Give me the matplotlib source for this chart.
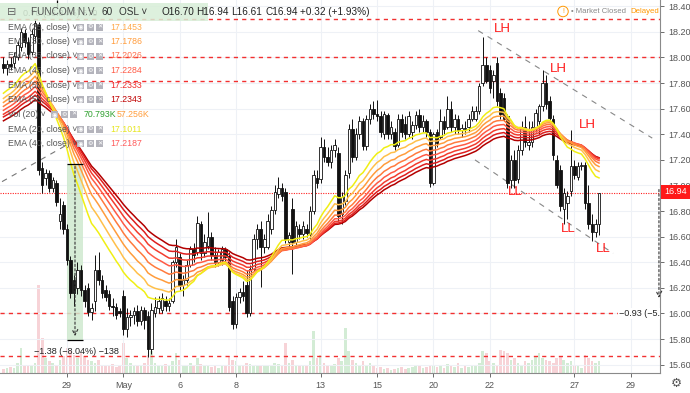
import numpy as np
import matplotlib
matplotlib.use('Agg')
import matplotlib.pyplot as plt
from matplotlib.patches import Rectangle

plt.rcParams['font.family'] = ['Liberation Sans', 'DejaVu Sans']

# hourly bars, 8 per trading day (OSL)
opens = [
    17.95, 17.92,
    17.95, 17.96, 18.00, 18.08, 18.19, 18.12, 18.04, 18.17,   # Apr 25
    18.25, 17.14, 17.06, 17.10, 16.98, 17.02, 16.72, 16.85,   # Apr 26
    16.66, 16.42, 16.26, 16.20, 16.34, 16.18, 16.20, 16.01,   # Apr 29
    16.10, 16.34, 16.26, 16.18, 16.15, 16.06, 16.05, 16.02,   # Apr 30
    16.14, 15.88, 15.97, 15.99, 16.02, 15.94, 16.03, 15.98,   # May 2
    15.72, 16.00, 16.04, 16.03, 16.10, 16.06, 16.10, 16.40,   # May 3
    16.44, 16.22, 16.26, 16.38, 16.50, 16.48, 16.70, 16.47,   # May 6
    16.53, 16.60, 16.46, 16.40, 16.42, 16.50, 16.45, 16.10,   # May 7
    15.92, 16.13, 16.17, 16.22, 16.00, 16.35, 16.58, 16.66,   # May 8
    16.52, 16.52, 16.66, 16.81, 16.93, 16.98, 16.95, 16.56,   # May 9
    16.82, 16.56, 16.66, 16.62, 16.66, 16.62, 16.80, 17.06,   # May 10
    17.05, 17.30, 17.22, 17.18, 17.28, 17.25, 16.78, 16.88,   # May 13
    17.10, 17.44, 17.22, 17.40, 17.50, 17.31, 17.52, 17.60,   # May 14
    17.56, 17.54, 17.40, 17.55, 17.40, 17.42, 17.32, 17.52,   # May 15
    17.48, 17.40, 17.42, 17.47, 17.55, 17.46, 17.50, 17.42,   # May 16
    17.02, 17.42, 17.38, 17.50, 17.46, 17.60, 17.46, 17.52,   # May 20
    17.43, 17.45, 17.46, 17.52, 17.52, 17.58, 17.80, 17.94,   # May 21
    17.90, 17.82, 17.96, 17.72, 17.68, 17.54, 17.04, 17.20,   # May 22
    17.05, 17.28, 17.46, 17.32, 17.34, 17.46, 17.50, 17.62,   # May 23
    17.80, 17.66, 17.52, 17.20, 17.12, 16.82, 16.86, 16.96,   # May 24
    17.15, 17.07, 17.15, 17.16, 16.86, 16.70, 16.64, 16.70,   # May 27
]
highs = [
    18.00, 17.98,
    18.00, 18.04, 18.13, 18.23, 18.22, 18.16, 18.22, 18.30,
    18.28, 17.18, 17.13, 17.12, 17.07, 17.04, 16.90, 16.88,
    16.70, 16.45, 16.30, 16.40, 16.38, 16.22, 16.24, 16.08,
    16.46, 16.48, 16.30, 16.22, 16.18, 16.12, 16.08, 16.04,
    16.18, 16.04, 16.03, 16.05, 16.07, 16.06, 16.05, 16.02,
    16.08, 16.13, 16.14, 16.16, 16.14, 16.12, 16.42, 16.58,
    16.47, 16.30, 16.42, 16.53, 16.55, 16.76, 16.72, 16.62,
    16.79, 16.64, 16.52, 16.50, 16.53, 16.52, 16.48, 16.14,
    16.16, 16.20, 16.25, 16.34, 16.38, 16.62, 16.70, 16.72,
    16.62, 16.78, 16.84, 17.00, 17.07, 17.02, 16.98, 16.64,
    16.90, 16.72, 16.70, 16.72, 16.70, 16.84, 17.12, 17.12,
    17.38, 17.36, 17.30, 17.32, 17.36, 17.30, 16.95, 17.12,
    17.48, 17.52, 17.45, 17.54, 17.53, 17.55, 17.64, 17.66,
    17.67, 17.58, 17.58, 17.57, 17.50, 17.45, 17.56, 17.56,
    17.54, 17.58, 17.50, 17.58, 17.60, 17.55, 17.52, 17.44,
    17.42, 17.44, 17.60, 17.54, 17.70, 17.66, 17.56, 17.55,
    17.48, 17.50, 17.56, 17.62, 17.62, 17.80, 18.16, 18.00,
    17.94, 17.90, 18.00, 17.76, 17.72, 17.56, 17.24, 17.28,
    17.32, 17.50, 17.54, 17.50, 17.50, 17.60, 17.64, 17.90,
    17.86, 17.70, 17.55, 17.24, 17.16, 16.98, 16.96, 17.43,
    17.20, 17.18, 17.18, 17.18, 17.00, 16.78, 16.74, 16.94,
]
lows = [
    17.88, 17.86,
    17.90, 17.92, 17.98, 18.05, 18.08, 17.99, 18.02, 18.12,
    17.08, 16.94, 17.00, 16.95, 16.95, 16.84, 16.66, 16.62,
    16.38, 16.12, 16.06, 16.15, 16.14, 16.05, 15.98, 15.95,
    16.02, 16.22, 16.12, 16.10, 16.03, 15.98, 15.96, 15.97,
    15.83, 15.82, 15.90, 15.92, 15.90, 15.91, 15.88, 15.66,
    15.68, 15.97, 16.00, 16.00, 16.02, 16.02, 16.08, 16.36,
    16.18, 16.14, 16.22, 16.36, 16.40, 16.46, 16.42, 16.44,
    16.50, 16.42, 16.36, 16.37, 16.38, 16.40, 16.02, 15.88,
    15.89, 16.08, 16.10, 15.97, 15.98, 16.33, 16.50, 16.21,
    16.47, 16.50, 16.62, 16.78, 16.90, 16.88, 16.55, 16.52,
    16.31, 16.52, 16.58, 16.58, 16.60, 16.58, 16.78, 16.98,
    17.02, 17.18, 17.15, 17.14, 17.22, 16.72, 16.70, 16.85,
    17.06, 17.18, 17.20, 17.36, 17.28, 17.28, 17.48, 17.52,
    17.50, 17.38, 17.36, 17.36, 17.36, 17.28, 17.30, 17.38,
    17.36, 17.38, 17.36, 17.44, 17.42, 17.42, 17.38, 16.99,
    17.00, 17.30, 17.36, 17.40, 17.44, 17.42, 17.40, 17.40,
    17.38, 17.40, 17.42, 17.50, 17.50, 17.56, 17.78, 17.80,
    17.72, 17.68, 17.62, 17.52, 17.50, 16.98, 16.98, 16.98,
    17.02, 17.24, 17.30, 17.28, 17.30, 17.42, 17.40, 17.58,
    17.60, 17.50, 17.20, 16.98, 16.80, 16.70, 16.74, 16.92,
    17.05, 17.04, 17.12, 16.82, 16.66, 16.57, 16.60, 16.61,
]
closes = [
    17.92, 17.95,
    17.93, 18.01, 18.10, 18.20, 18.12, 18.03, 18.18, 18.27,
    17.12, 17.00, 17.10, 16.98, 17.04, 16.87, 16.78, 16.66,
    16.42, 16.16, 16.16, 16.34, 16.18, 16.10, 16.01, 16.04,
    16.34, 16.26, 16.16, 16.13, 16.06, 16.05, 15.99, 16.00,
    15.88, 15.97, 15.99, 16.02, 15.94, 16.03, 15.95, 15.72,
    16.03, 16.05, 16.10, 16.12, 16.06, 16.08, 16.40, 16.52,
    16.22, 16.26, 16.38, 16.50, 16.46, 16.71, 16.47, 16.56,
    16.60, 16.46, 16.40, 16.48, 16.50, 16.44, 16.05, 15.92,
    16.13, 16.17, 16.14, 16.00, 16.35, 16.58, 16.66, 16.52,
    16.58, 16.72, 16.81, 16.95, 16.98, 16.92, 16.58, 16.61,
    16.56, 16.68, 16.62, 16.68, 16.63, 16.80, 17.08, 17.02,
    17.30, 17.22, 17.18, 17.28, 17.32, 16.76, 16.91, 17.08,
    17.44, 17.22, 17.40, 17.50, 17.31, 17.52, 17.60, 17.56,
    17.54, 17.42, 17.56, 17.40, 17.46, 17.31, 17.52, 17.42,
    17.40, 17.54, 17.47, 17.55, 17.46, 17.50, 17.42, 17.02,
    17.40, 17.33, 17.50, 17.44, 17.60, 17.46, 17.52, 17.43,
    17.45, 17.44, 17.52, 17.58, 17.58, 17.78, 17.94, 17.82,
    17.76, 17.86, 17.66, 17.56, 17.52, 17.02, 17.20, 17.04,
    17.28, 17.46, 17.34, 17.34, 17.46, 17.57, 17.62, 17.80,
    17.64, 17.53, 17.24, 17.00, 16.84, 16.94, 16.92, 17.15,
    17.08, 17.15, 17.16, 16.86, 16.70, 16.64, 16.70, 16.94,
]
volumes_k = [
    25, 30,
    35, 30, 60, 150, 50, 45, 40, 60,
    530, 210, 90, 70, 60, 50, 80, 100,
    150, 130, 110, 90, 120, 100, 80, 70,
    60, 80, 50, 40, 45, 55, 35, 40,
    180, 90, 60, 50, 45, 40, 60, 110,
    130, 60, 50, 40, 55, 45, 70, 120,
    80, 50, 45, 60, 40, 90, 55, 40,
    50, 35, 40, 30, 45, 50, 100, 80,
    70, 50, 40, 60, 55, 45, 40, 50,
    45, 40, 50, 60, 55, 40, 180, 60,
    80, 50, 45, 40, 50, 70, 250, 90,
    110, 60, 50, 40, 55, 90, 70, 270,
    130, 80, 60, 50, 70, 45, 60, 40,
    30, 35, 25, 30, 20, 25, 30, 35,
    25, 30, 35, 40, 45, 30, 35, 50,
    40, 35, 45, 30, 55, 40, 35, 60,
    30, 45, 35, 50, 40, 60, 130, 120,
    70, 60, 50, 140, 130, 120, 80, 90,
    60, 50, 70, 60, 80, 100, 120, 90,
    80, 70, 60, 90, 100, 80, 60, 70,
    50, 40, 30, 110, 90, 70, 60, 71,
]

ema_periods = [55, 50, 45, 40, 35, 30, 25, 20]
ema_seeds = [17.49, 17.52, 17.54, 17.57, 17.60, 17.63, 17.66, 17.70]
ema_colors = ['#b30000', '#de1f1f', '#f23c2e', '#ff5a45', '#ff7a3d',
              '#ff9c3c', '#ffc04a', '#f0ef14']

date_ticks = [18, 34, 50, 66, 90, 106, 122, 138, 162, 178]
date_labels = ['29', 'May', '6', '8', '13', '15', '20', '22', '27', '29']
price_ticks = [15.6, 15.8, 16.0, 16.2, 16.4, 16.6, 16.8, 17.0, 17.2, 17.4,
               17.6, 17.8, 18.0, 18.2, 18.4]
level_lines = [18.30, 18.00, 17.82, 16.00, 15.67]
last_price = 16.94

legend_names = ['EMA (25, close)', 'EMA (30, close)', 'EMA (35, close)',
                'EMA (45, close)', 'EMA (50, close)', 'EMA (55, close)',
                'Vol (20)', 'EMA (20, close)', 'EMA (40, close)']
legend_values = ['17.1453', '17.1786', '17.2026', '17.2284', '17.2333',
                 '17.2343', '70.793K', '17.1011', '17.2187']
legend_colors = ['#ffa94a', '#ff9c3c', '#ff6e4a', '#ff5a45', '#f02828',
                 '#c00000', '#2ea02e', '#e6e61e', '#ff5a5a']

labels_hl = ['LH', 'LH', 'LH', 'LL', 'LL', 'LL']
labels_x = [141.5, 157.6, 165.6, 145.3, 160.3, 170.2]
labels_p = [18.22, 17.91, 17.47, 16.95, 16.66, 16.50]


def ema(values, period, seed):
    a = 2.0 / (period + 1)
    out = []
    prev = seed
    for v in values:
        prev = a * v + (1 - a) * prev
        out.append(prev)
    return out


W, H = 690, 393
fig = plt.figure(figsize=(6.9, 3.93), dpi=100, facecolor='white')


def px(x, y):
    return x / W, 1 - y / H


ax = fig.add_axes([0, 20 / H, 660 / W, 373 / H])
ax2 = ax.twinx()
ax.set_zorder(2)
ax2.set_zorder(1)
ax.patch.set_visible(False)

n = len(closes)
xs = np.arange(n)
o = np.array(opens)
c = np.array(closes)
up = c >= o

# volume
vol_cols = np.where(up, '#d3ecd5', '#f7d3d7')
ax2.bar(xs, volumes_k, width=0.75, color=vol_cols, linewidth=0)
ax2.set_ylim(0, 373 * 6)
ax2.axis('off')

ax.set_xlim(-0.98, 186.3)
ax.set_ylim(15.535, 18.449)

for t in price_ticks:
    ax.axhline(t, color='#eef1f6', lw=0.8, zorder=0)
for t in date_ticks:
    ax.axvline(t, color='#eef1f6', lw=0.8, zorder=0)

for lv in level_lines:
    ax.axhline(lv, color='#f23030', lw=1.0, ls=(0, (3, 3)), zorder=1)
ax.axhline(last_price, color='#ff2020', lw=0.8, ls=(0, (1, 1.2)), zorder=1)

# trend lines
ax.plot([-0.4, 19.45], [17.03, 17.34], color='#777777', lw=0.8,
        ls=(0, (5, 5)), zorder=1)
ax.plot([134.7, 184.1], [18.21, 17.37], color='#888888', lw=0.8,
        ls=(0, (5, 5)), zorder=1)
ax.plot([133.8, 173.0], [17.20, 16.47], color='#888888', lw=0.8,
        ls=(0, (5, 5)), zorder=1)

# measure box
ax.add_patch(Rectangle((18.03, 15.79), 4.54, 1.38, facecolor='#cfe9cf',
                       edgecolor='none', alpha=0.85, zorder=1))
ax.hlines([17.17, 15.79], 18.03, 22.57, color='black', lw=0.9, zorder=4)
ax.annotate('', xy=(20.3, 15.80), xytext=(20.3, 17.17),
            arrowprops=dict(arrowstyle='->', ls=(0, (2, 2)), color='#333333',
                            lw=0.8), zorder=4)
ax.text(20.6, 15.70, '\u22121.38 (\u22128.04%) \u2212138', ha='center',
        va='center', fontsize=6.5, color='#222222', zorder=5)

ax.annotate('', xy=(186.0, 16.10), xytext=(186.0, 16.99),
            arrowprops=dict(arrowstyle='->', ls=(0, (2, 2)), color='#333333',
                            lw=0.8), zorder=4, annotation_clip=False)
ax.text(186.3, 16.0, '\u22120.93 (\u22125.', ha='right', va='center',
        fontsize=6.5, color='#222222', zorder=5, clip_on=True,
        bbox=dict(boxstyle='square,pad=0.1', fc='white', ec='none'))

ax.text(5.5, 18.34, '0.70 (36.84%) 670', ha='left', va='center',
        fontsize=6.5, color='#444444', zorder=5)
ax.vlines(15.2, 18.39, 18.45, color='black', lw=0.9, zorder=5)

# candles
ax.vlines(xs, lows, highs, color='#111111', lw=0.7, zorder=2)
bottoms = np.minimum(o, c)
heights = np.maximum(np.abs(c - o), 0.006)
ax.bar(xs, heights, bottom=bottoms, width=0.72,
       color=np.where(up, 'white', '#111111'), edgecolor='#111111',
       linewidth=0.6, zorder=2)

# EMA ribbon
for per, seed, col in zip(ema_periods, ema_seeds, ema_colors):
    ax.plot(xs, ema(closes, per, seed), color=col, lw=1.1, zorder=3)

for lab, lx, lp in zip(labels_hl, labels_x, labels_p):
    ax.text(lx, lp, lab, color='#ff1a1a', fontsize=9.5, ha='center',
            va='center', zorder=6)

# axes styling
ax.yaxis.tick_right()
ax.set_yticks(price_ticks)
ax.set_yticklabels(['%.2f' % t for t in price_ticks])
ax.set_xticks(date_ticks)
ax.set_xticklabels(date_labels)
ax.tick_params(axis='both', labelsize=6.5, colors='#555555', length=3,
               width=0.6)
ax.tick_params(axis='y', pad=3)
ax.tick_params(axis='x', pad=3)
ax.grid(False)
for s in ['left', 'top']:
    ax.spines[s].set_visible(False)
ax.spines['right'].set_color('#8a8a8a')
ax.spines['bottom'].set_color('#8a8a8a')

# price tag
fig.patches.append(Rectangle(px(661, 198.5), 29 / W, 14 / H,
                             facecolor='#ff1a1a', edgecolor='none',
                             transform=fig.transFigure, zorder=10))
fig.text(*px(664, 191.5), '16.94', color='white', fontsize=6.5, va='center',
         zorder=11)

# header
fig.patches.append(Rectangle(px(0, 21), 208 / W, 18 / H, facecolor='#d8eed8',
                             edgecolor='none', alpha=0.85,
                             transform=fig.transFigure, zorder=8))
fig.text(*px(7, 12), '\u229f', fontsize=8, color='#666666', va='center',
         family=['DejaVu Sans'], zorder=9)
header_txt = [(31, 'FUNCOM N.V.', '#555555'), (102, '60', '#333333'),
              (119, 'OSL \u02c5', '#333333'), (161, 'O16.70', '#222222'),
              (196, 'H16.94', '#222222'), (231, 'L16.61', '#222222'),
              (265, 'C16.94', '#222222'), (300, '+0.32 (+1.93%)', '#222222')]
for hx, ht, hc in header_txt:
    fig.text(*px(hx, 12), ht, fontsize=7.2, color=hc, va='center', zorder=9)

# legend rows
row_y = [27, 41.7, 56, 70.7, 85.3, 99.5, 114.3, 129, 143.7]
for nm, val, vc, ry in zip(legend_names, legend_values, legend_colors, row_y):
    fig.text(*px(8, ry), nm + ' \u02c5', fontsize=6.3, color='#555555',
             va='center', zorder=9)
    ix = 51 if nm.startswith('Vol') else 77
    for k, g in enumerate(['\u25c9', '\u2699', '\u2715']):
        fig.patches.append(Rectangle(px(ix + k * 9.7, ry + 3.5), 7 / W, 7 / H,
                                     facecolor='#b4b4bc', edgecolor='none',
                                     transform=fig.transFigure, zorder=9))
        fig.text(*px(ix + k * 9.7 + 3.5, ry), g, fontsize=4.5, color='white',
                 ha='center', va='center', family=['DejaVu Sans'], zorder=10)
    vx = 84 if nm.startswith('Vol') else 110
    fig.text(*px(vx, ry), val, fontsize=6.3, color=vc, va='center', zorder=9)
    if nm.startswith('Vol'):
        fig.text(*px(117, ry), '57.256K', fontsize=6.3, color='#ff9d3c',
                 va='center', zorder=9)

# status top right
fig.text(*px(563, 11.5), '!', fontsize=5, color='#ff9800', ha='center',
         va='center', zorder=9,
         bbox=dict(boxstyle='circle,pad=0.25', fc='white', ec='#ff9800',
                   lw=0.7))
fig.text(*px(571, 11.5), '\u2022 Market Closed', fontsize=5.6,
         color='#8a8a8a', va='center', zorder=9)
fig.text(*px(659, 11.5), 'Delayed', fontsize=5.6, color='#ff9800',
         ha='right', va='center', zorder=9)

fig.text(*px(676, 383), '\u2699', fontsize=9, color='#555555', ha='center',
         va='center', family=['DejaVu Sans'], zorder=9)

fig.savefig('out.png', dpi=100, facecolor='white')
